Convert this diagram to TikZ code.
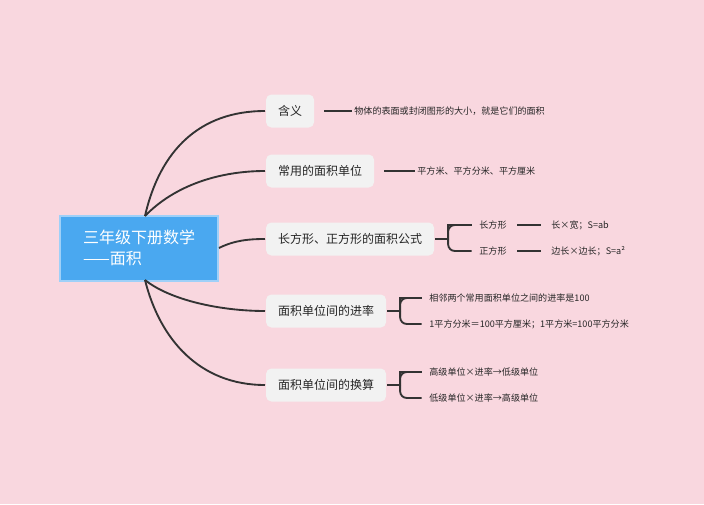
\documentclass[tikz,border=0pt]{standalone}
\usepackage{fontspec}
\setmainfont{Noto Sans CJK SC}
\definecolor{bgpink}{HTML}{F9D7DF}
\definecolor{rootblue}{HTML}{4AA8F0}
\definecolor{rootedge}{HTML}{9FD0F8}
\definecolor{topicgrey}{HTML}{F2F2F2}
\definecolor{linegrey}{HTML}{333333}
\begin{document}
\begin{tikzpicture}[x=0.75pt, y=-0.75pt, line width=1.6pt,
    root/.style={fill=rootblue, draw=rootedge, line width=1.5pt, text=white, font=\fontsize{12}{16}\selectfont,
        minimum width=118.5pt, minimum height=48.75pt, align=left, inner sep=0pt},
    topic/.style={fill=topicgrey, rounded corners=4pt, text=black!85, font=\fontsize{9}{11}\selectfont,
        minimum height=24.75pt, inner xsep=9pt},
    leaf/.style={font=\fontsize{6.8}{8}\selectfont, text=black!85, anchor=west, inner sep=1pt},
    link/.style={draw=linegrey, line width=1.4pt}]

    % fondo
    \fill[bgpink] (0,0) rectangle (704,504);

    % -- radice --
    \node[root] (root) at (139,248) {三年级下册数学\\——面积};

    % -- rami principali --
    \node[topic, anchor=west] (hanyi) at (265,111) {含义};
    \node[topic, anchor=west] (danwei) at (265,171) {常用的面积单位};
    \node[topic, anchor=west] (gongshi) at (265,239) {长方形、正方形的面积公式};
    \node[topic, anchor=west] (jinlv) at (265,311) {面积单位间的进率};
    \node[topic, anchor=west] (huansuan) at (265,385) {面积单位间的换算};

    \coordinate (rtop) at (145,216);
    \coordinate (rbot) at (145,280);
    \draw[link] (rtop) .. controls (160,150) and (200,111) .. (hanyi.west);
    \draw[link] (rtop) .. controls (175,185) and (220,171) .. (danwei.west);
    \draw[link] (root.east) .. controls (235,240) and (250,239) .. (gongshi.west);
    \draw[link] (rbot) .. controls (170,300) and (220,311) .. (jinlv.west);
    \draw[link] (rbot) .. controls (160,340) and (200,385) .. (huansuan.west);

    % -- foglie --
    \node[leaf] (hanyiA) at (352,111) {物体的表面或封闭图形的大小，就是它们的面积};
    \draw[link] (hanyi.east) ++(9,0) -- (hanyiA.west);
    \node[leaf] (danweiA) at (415,171) {平方米、平方分米、平方厘米};
    \draw[link] (danwei.east) ++(9,0) -- (danweiA.west);

    \node[leaf] (chang) at (477,225) {长方形};
    \node[leaf] (zheng) at (477,251) {正方形};
    \node[leaf] (changA) at (549,225) {长×宽；S=ab};
    \node[leaf] (zhengA) at (549,251) {边长×边长；S=a²};
    \draw[link] (chang.east) ++(8,0) -- ++(24,0);
    \draw[link] (zheng.east) ++(8,0) -- ++(24,0);

    \node[leaf] (jinlvA) at (427,298) {相邻两个常用面积单位之间的进率是100};
    \node[leaf] (jinlvB) at (427,324) {1平方分米＝100平方厘米；1平方米=100平方分米};
    \node[leaf] (huanA) at (427,372) {高级单位×进率→低级单位};
    \node[leaf] (huanB) at (427,398) {低级单位×进率→高级单位};

    % parentesi graffe
    \foreach \p/\a/\b in {gongshi/chang/zheng, jinlv/jinlvA/jinlvB, huansuan/huanA/huanB}{
        \draw[link] (\p.east) -- ++(13,0) coordinate (m);
        \draw[link] (m) |- ([xshift=-4pt]\a.west) [rounded corners=5pt];
        \draw[link, rounded corners=5pt] (m) |- ([xshift=-4pt]\a.west);
        \draw[link, rounded corners=5pt] (m) |- ([xshift=-4pt]\b.west);
    }

\end{tikzpicture}
\end{document}
